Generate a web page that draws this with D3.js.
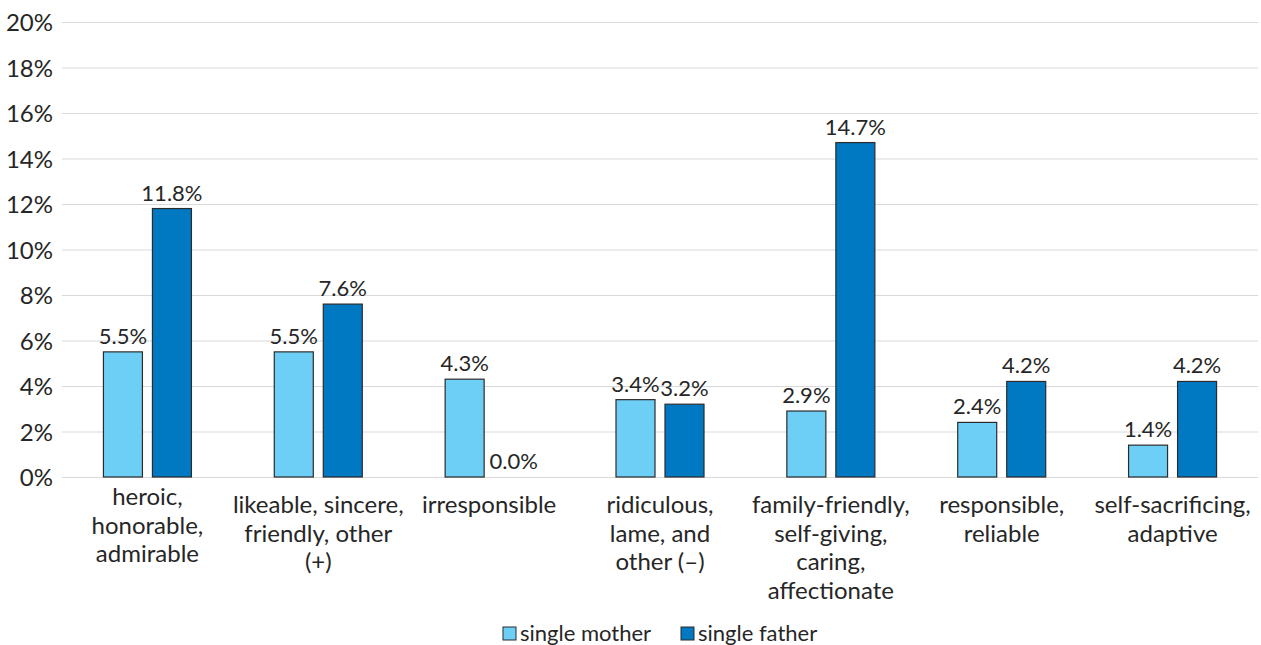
<!DOCTYPE html>
<html>
<head>
<meta charset="utf-8">
<script src="https://cdn.jsdelivr.net/npm/d3@7"></script>
<style>
  html, body { margin: 0; padding: 0; background: #fff; }
  svg { display: block; font-family: Lato, "Open Sans", sans-serif; }
</style>
</head>
<body>
<svg id="chart" width="1261" height="645"></svg>
<script>
// Trait categories (each entry is the list of wrapped label lines)
const categories = [
  ["heroic,", "honorable,", "admirable"],
  ["likeable, sincere,", "friendly, other", "(+)"],
  ["irresponsible"],
  ["ridiculous,", "lame, and", "other (\u2013)"],
  ["family-friendly,", "self-giving,", "caring,", "affectionate"],
  ["responsible,", "reliable"],
  ["self-sacrificing,", "adaptive"]
];
const seriesNames = ["single mother", "single father"];
const singleMother = [5.5, 5.5, 4.3, 3.4, 2.9, 2.4, 1.4];
const singleFather = [11.8, 7.6, 0.0, 3.2, 14.7, 4.2, 4.2];
const yTicks = [0, 2, 4, 6, 8, 10, 12, 14, 16, 18, 20];

const colors = ["#6dcff6", "#0079c2"];
const textColor = "#262626";

const svg = d3.select("#chart");
const margin = { left: 62, right: 3, top: 22, bottom: 168 };
const W = 1261, H = 645;

const x = d3.scaleBand()
  .domain(d3.range(categories.length))
  .range([margin.left, W - margin.right])
  .paddingInner(0).paddingOuter(0);

const y = d3.scaleLinear().domain([0, 20]).range([H - margin.bottom, margin.top]);

// Gridlines + y tick labels
const yAxis = d3.axisLeft(y)
  .tickValues(yTicks)
  .tickSize(-(W - margin.left - margin.right))
  .tickPadding(9)
  .tickFormat(d => d + "%");

const gy = svg.append("g")
  .attr("transform", `translate(${margin.left},0)`)
  .call(yAxis);
gy.select(".domain").remove();
gy.selectAll(".tick line").attr("stroke", "#d9d9d9").attr("stroke-width", 1);
gy.selectAll(".tick text")
  .attr("fill", textColor)
  .attr("font-size", 24)
  .attr("font-family", "Lato, sans-serif")
  .attr("dy", "0.36em");

// Bars
const barW = 39, gap = 10;
const series = [singleMother, singleFather];
series.forEach((vals, si) => {
  const g = svg.append("g");
  const bx = i => x(i) + x.bandwidth() / 2 + (si === 0 ? -gap / 2 - barW : gap / 2);
  g.selectAll("rect").data(vals).join("rect")
    .attr("x", (d, i) => bx(i))
    .attr("y", d => y(d))
    .attr("width", barW)
    .attr("height", d => y(0) - y(d))
    .attr("fill", colors[si])
    .attr("stroke", d => d > 0 ? "#2b2b2b" : "none")
    .attr("stroke-width", 1.2);

  g.selectAll("text").data(vals).join("text")
    .attr("x", (d, i) => bx(i) + barW / 2)
    .attr("y", d => y(d) - 8)
    .attr("text-anchor", "middle")
    .attr("fill", textColor)
    .attr("font-size", 22)
    .text(d => d.toFixed(1) + "%");
});

// Category labels
const lineH = 28.7;
const cg = svg.append("g");
categories.forEach((lines, i) => {
  const t = cg.append("text")
    .attr("x", x(i) + x.bandwidth() / 2)
    .attr("y", y(0) + (i === 0 ? 28 : 36))
    .attr("text-anchor", "middle")
    .attr("fill", textColor)
    .attr("font-size", 24);
  lines.forEach((ln, k) => {
    t.append("tspan")
      .attr("x", x(i) + x.bandwidth() / 2)
      .attr("dy", k === 0 ? 0 : lineH)
      .text(ln);
  });
});

// Legend
const legend = svg.append("g");
const legendItems = [{ x: 503 }, { x: 681 }];
seriesNames.forEach((name, i) => {
  const lx = legendItems[i].x;
  legend.append("rect")
    .attr("x", lx).attr("y", 627)
    .attr("width", 13).attr("height", 13)
    .attr("fill", colors[i])
    .attr("stroke", "#2b2b2b").attr("stroke-width", 1);
  legend.append("text")
    .attr("x", lx + 17).attr("y", 641)
    .attr("fill", textColor)
    .attr("font-size", 22)
    .text(name);
});
</script>
</body>
</html>
